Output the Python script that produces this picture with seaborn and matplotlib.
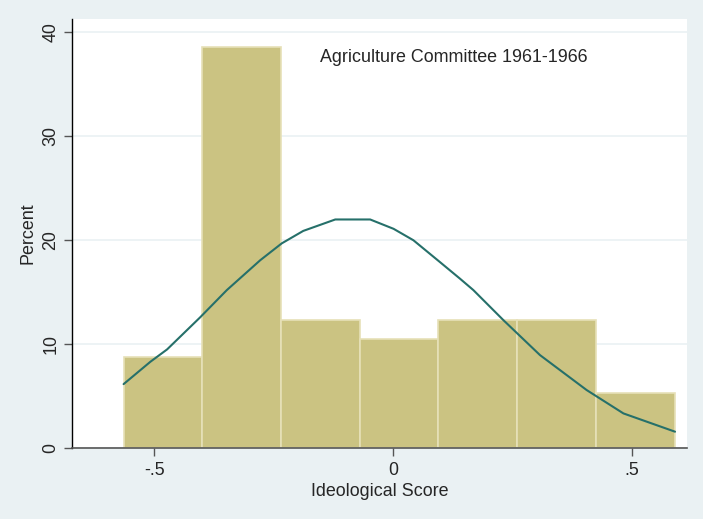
import matplotlib
matplotlib.use("Agg")
import matplotlib.pyplot as plt
import seaborn as sns

# Histogram data (percent per bin)
bin_edges = [-0.564, -0.4, -0.235, -0.07, 0.095, 0.26, 0.425, 0.589]
bin_percent = [8.77, 38.60, 12.28, 10.53, 12.28, 12.28, 5.26]

# Normal-density overlay
curve_x = [-0.564, -0.508, -0.473, -0.404, -0.348, -0.278, -0.233, -0.188, -0.121,
           -0.048, 0.001, 0.0425, 0.098, 0.140, 0.168, 0.231, 0.3075, 0.405, 0.482, 0.590]
curve_y = [6.15, 8.3, 9.49, 12.57, 15.2, 18.08, 19.7, 20.9, 22.0,
           22.0, 21.1, 20.0, 17.9, 16.3, 15.2, 12.3, 8.94, 5.58, 3.33, 1.57]

x_ticks = [-0.5, 0, 0.5]
x_tick_labels = ["-.5", "0", ".5"]
y_ticks = [0, 10, 20, 30, 40]

title_text = "Agriculture Committee 1961-1966"

sns.set_style("white")
plt.rcParams['font.family'] = ['Liberation Sans', 'DejaVu Sans']

bg = "#eaf1f3"
fig = plt.figure(figsize=(7.03, 5.19), dpi=100, facecolor=bg)
ax = fig.add_axes([0.1024, 0.1368, 0.8748, 0.8266])
ax.set_facecolor("white")

centers = [(bin_edges[i] + bin_edges[i + 1]) / 2 for i in range(len(bin_percent))]
sns.histplot(x=centers, weights=bin_percent, bins=bin_edges, ax=ax,
             color="#cbc382", alpha=1.0, edgecolor="#e6e0b8", linewidth=1.2, zorder=2)
sns.lineplot(x=curve_x, y=curve_y, ax=ax, color="#26706a", linewidth=1.5, zorder=3)

ax.set_xlim(-0.672, 0.615)
ax.set_ylim(0, 41.3)

ax.set_yticks(y_ticks)
ax.set_yticklabels([str(v) for v in y_ticks], rotation=90, va="center", fontsize=12.9)
ax.set_xticks(x_ticks)
ax.set_xticklabels(x_tick_labels, fontsize=12.9)

ax.grid(axis="y", color="#eaf1f3", linewidth=1.2, zorder=0)
ax.set_axisbelow(True)

for s in ["top", "right"]:
    ax.spines[s].set_visible(False)
ax.spines["left"].set_color("black")
ax.spines["left"].set_linewidth(1.0)
ax.spines["bottom"].set_color("#555555")
ax.spines["bottom"].set_linewidth(1.2)

ax.tick_params(axis="both", which="major", length=6, width=1.0, color="#555555",
               direction="out", bottom=True, left=True)
ax.tick_params(axis="y", pad=3)
ax.tick_params(axis="x", pad=4)

ax.set_xlabel("Ideological Score", fontsize=12.9, labelpad=3)
ax.set_ylabel("Percent", fontsize=12.9, labelpad=4)

ax.text(0.126, 37.6, title_text, fontsize=12.9, ha="center", va="center", zorder=4)

fig.savefig("out.png", dpi=100, facecolor=bg)
